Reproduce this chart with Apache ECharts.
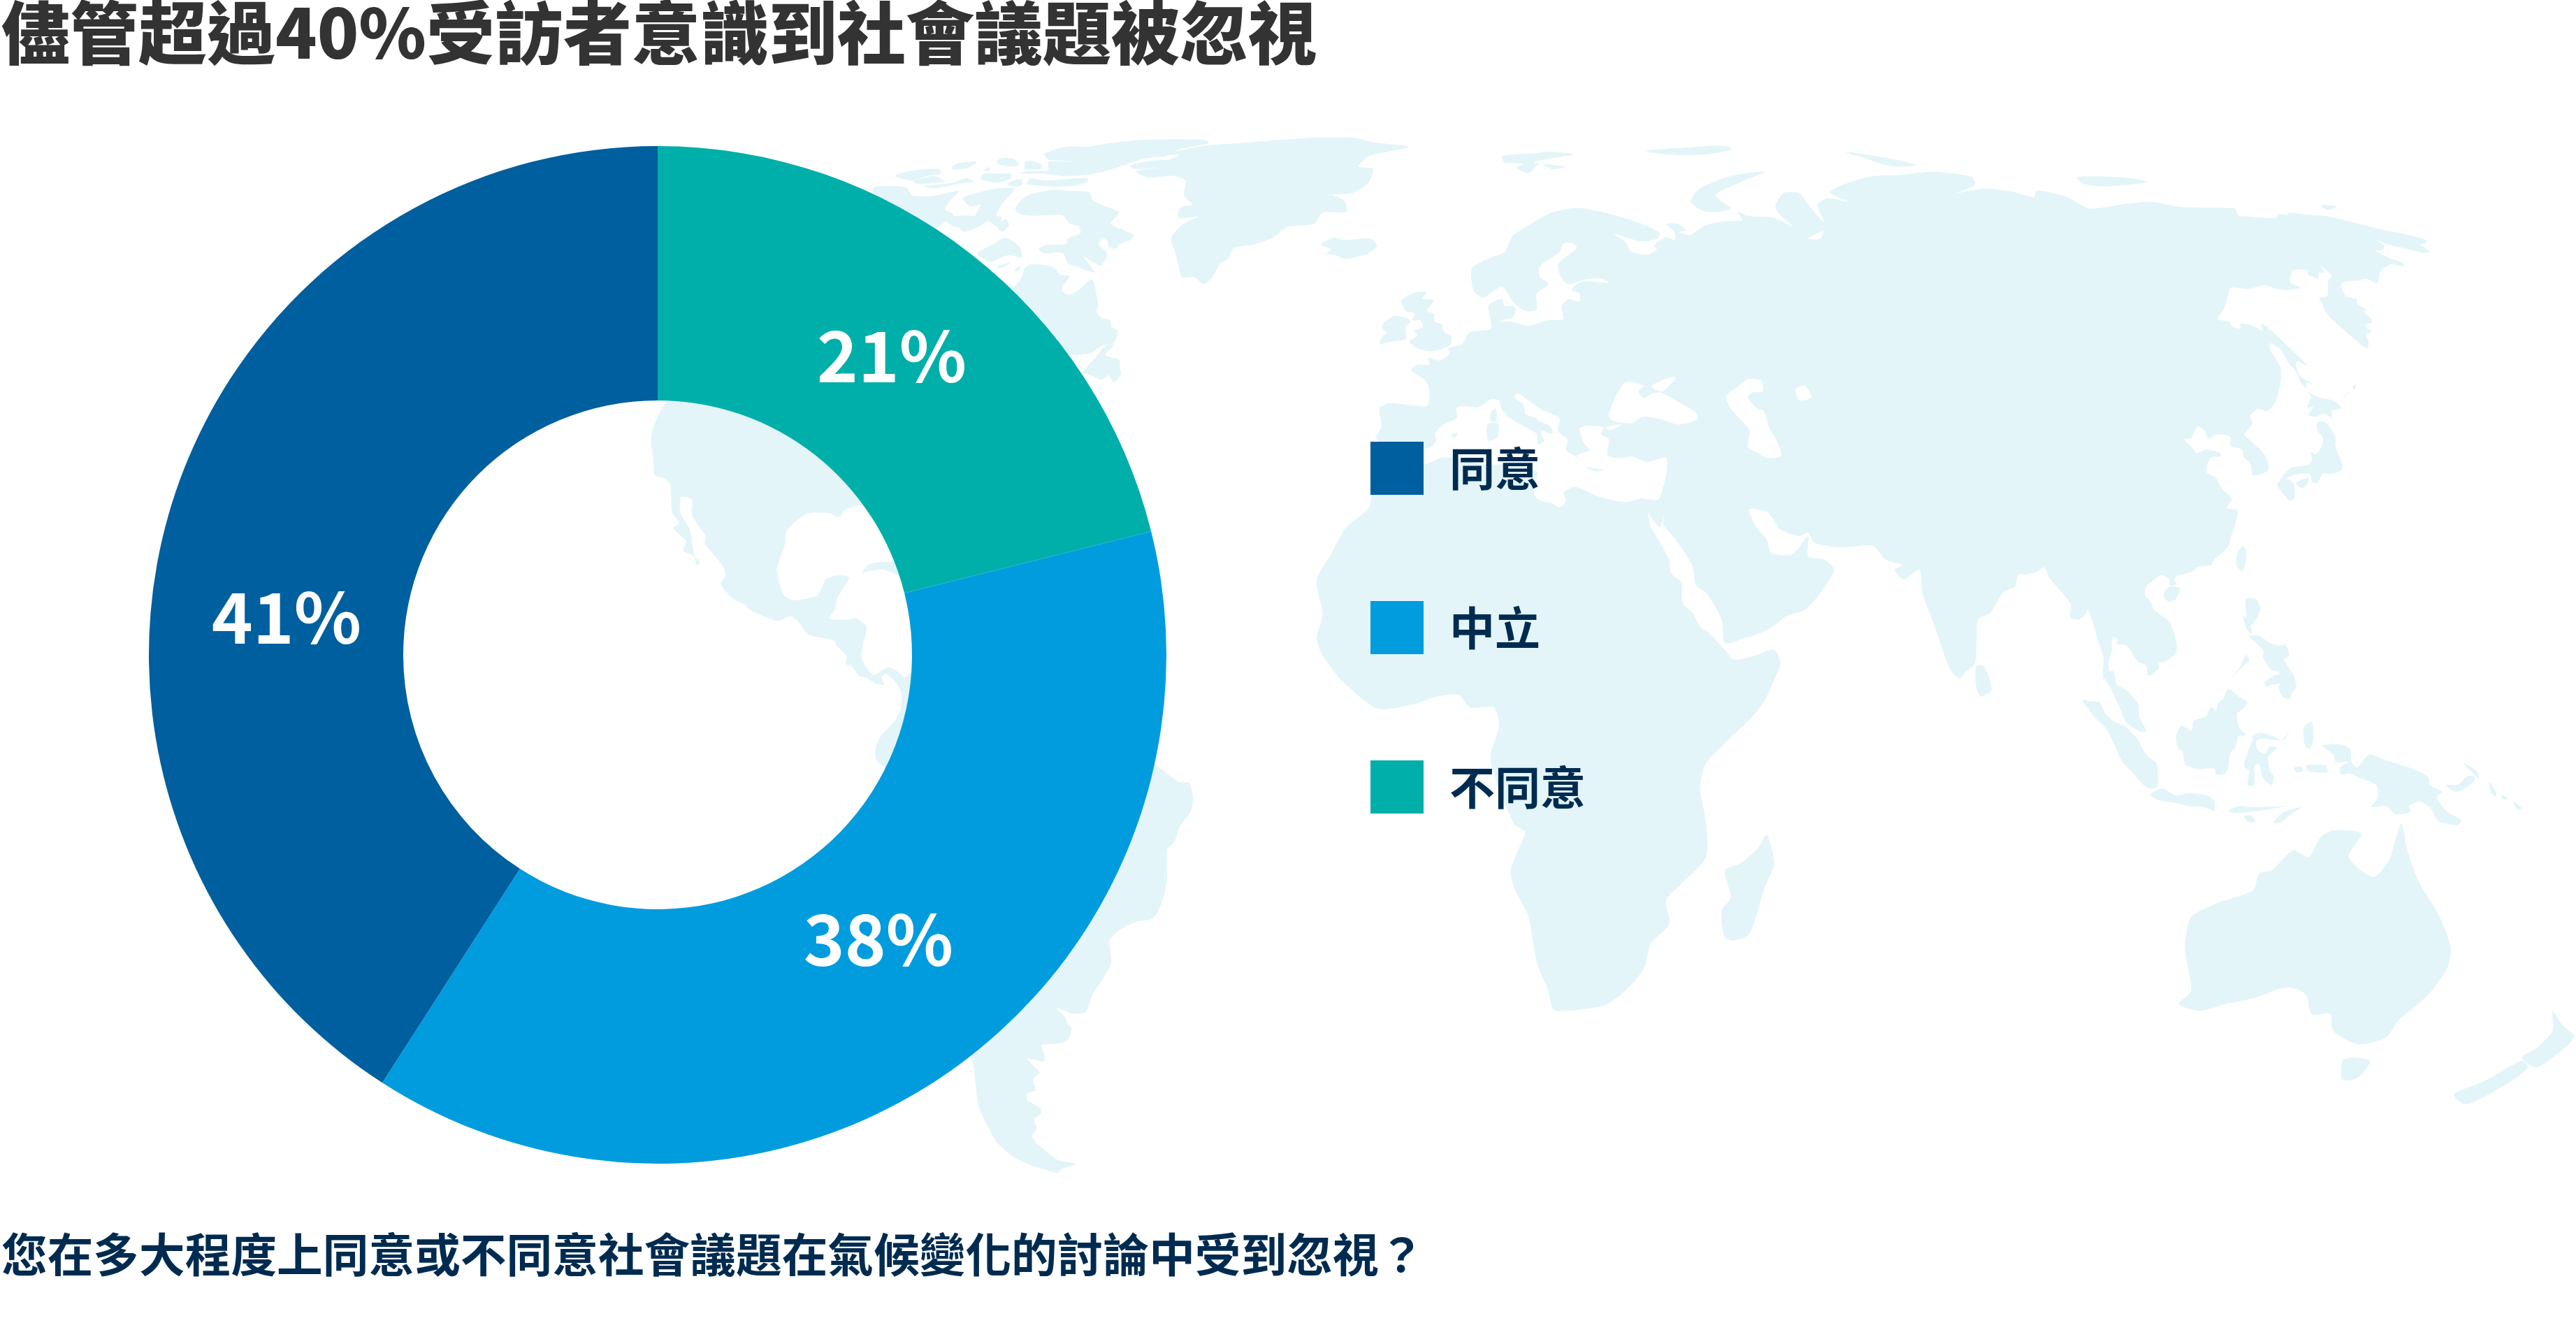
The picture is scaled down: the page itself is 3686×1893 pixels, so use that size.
<!DOCTYPE html>
<html><head><meta charset="utf-8">
<style>html,body{margin:0;padding:0;background:#fff}#c{width:3686px;height:1893px}</style>
<script src="https://cdn.jsdelivr.net/npm/echarts@6/dist/echarts.min.js"></script>
</head><body><div id="c"></div>
<script>
// ---- chart data ----
const categories = ['不同意', '中立', '同意'];
const values = [21.1, 38, 40.9];
const legendOrder = ['同意', '中立', '不同意'];
const sliceColors = ['#00AFAA', '#009CDE', '#005F9E'];
const titleText = '儘管超過40%受訪者意識到社會議題被忽視';
const questionText = '您在多大程度上同意或不同意社會議題在氣候變化的討論中受到忽視？';
const labelAnchors = [[1276, 509], [1257, 1344], [410, 883]];

// ---- decorative world backdrop (hand traced) ----
const LAND = '#E3F5F8';
// local tracing frames: origin x, origin y, scale x, scale y
const A = [1250, 180, 1.96, 3];
const B = [1950, 200, 2.613, 2.613];
const C = [2300, 150, 1.1313, 1.0453];
const D = [3100, 300, 3, 3];
const E = [2900, 750, 2.0103, 3];
const F = [900, 550, 3, 2.851];
const G = [1300, 1050, 3, 2.412];
const H = [1200, 150, 1.206, 1.206];

const eurasia = [
 [B,[62,1005,95,985,190,993,240,995,250,940,235,900,205,880,180,860,210,840,250,842,245,815,285,825,325,800,320,780,370,765,400,720,480,705,470,620,520,595,530,620,570,625,565,660,510,680,560,680,620,695,690,675,750,670,742,625,770,595,810,605,810,575,780,560,820,530,920,535,890,518,820,525,770,540,745,520,730,465,800,405,780,385,750,390,735,420,665,470,660,510,695,540,650,575,650,635,610,640,565,610,520,550,450,590,415,565,408,480,480,440,530,420,560,360,620,320,700,275,800,255,895,270,1000,300,1070,325,1110,350,1100,370,1040,380,940,352,985,385,1000,415,1060,430,1100,410,1090,395,1130,365,1165,375,1165,345,1135,315,1180,315,1210,340,1180,345,1225,355,1280,320,1350,305,1420,300,1400,270,1445,285,1530,290,1568,305]],
 [C,[300,182,272,155,285,132,310,132,330,155,350,175,380,182,345,190,325,200,345,200,352,178,340,150,355,140,390,145,360,130,420,108,470,105,530,100,590,108,595,120,565,132,610,125,655,130,690,138,695,128,745,138,780,155,840,148,880,145,930,153,1015,155]],
 [D,[310,25,360,30,470,35,480,18,520,25,575,52,520,30,525,15,590,20,700,30,860,70,940,90,1000,100,1115,130,1115,145,1090,150,1130,180,1100,185,1020,165,950,150,900,130,935,155,925,175,895,175,950,205,1018,230,1020,243,965,235,920,265,905,315,860,297,815,305,790,305,750,318,770,370,815,385,820,405,862,432,845,435,880,470,880,485,850,495,880,525,855,535,868,570,860,597,800,550,720,480,680,435,670,405,655,380,690,370,695,300,710,285,680,255,655,238,680,270,655,270,650,295,610,280,600,258,545,262,530,310,575,335,520,345,470,340,420,325,355,340,275,335,265,365,245,430,218,470,270,480,285,505,320,510,315,490,360,495,410,520,445,570,445,600,490,680,490,740,465,830,430,865,395,855,360,885,368,920,335,965,360,990,420,1050,440,1105,430,1125,370,1140,360,1090,330,1060,325,1030,275,1015,275,975,215,965,180,985,165,950,135,930,105,980,75,985,105,1015,130,1045,170,1030,230,1045,230,1060,190,1065,170,1125,210,1150,240,1200,280,1240,260,1280,305,1290,295,1350,275,1410,270,1440]],
 [E,[583,90,565,120,540,150,530,175,490,185,480,200,450,215,430,225,425,240,430,258,412,265,410,235,385,218,365,240,345,265,340,305,358,335,365,365,400,405,415,430,430,500,430,550,400,590,380,595,380,620,350,650,343,605,320,590,300,545,285,520,262,515,260,490,245,490,245,540,235,600,240,630,250,630,260,690,285,710,320,770,325,830,345,890,325,890,285,850,270,795,258,755,240,700,222,660,218,680,220,570,205,500,190,420,175,365,170,385,150,410,125,400,127,345,105,300,65,230,50,185,30,205,0,215]],
 [C,[665,703,660,720,640,730,620,760,600,770,598,800,595,835,580,848,570,858,555,845,530,780,510,730,505,695,480,710,465,695,478,688,450,680,430,660,375,662,335,655,325,640,310,645,280,635,260,610,230,605,240,630,258,650,265,670,300,672,325,645,325,675,350,680,367,695,345,730,320,755,290,765,260,785,215,800,190,805,185,770,160,730,143,718,138,690,118,660,90,628]],
 [B,[1122,1442,1125,1405,1110,1448,1065,1390,1060,1345,1105,1345,1135,1250,1135,1190,1100,1195,1060,1205,1010,1185,950,1190,915,1180,920,1120,890,1100,900,1075,840,1070,810,1080,830,1140,850,1160,800,1180,825,1200,790,1180,760,1160,765,1120,730,1090,735,1040,670,1010,600,960,565,935,590,940,565,960,600,990,610,1025,650,1040,655,1050,700,1070,710,1095,700,1100,670,1085,670,1110,680,1125,655,1140,650,1100,600,1070,565,1050,520,1010,510,975,480,970,430,1000,375,995,350,1005,352,1040,300,1065,270,1100,275,1125,250,1150,200,1165,90,1150,50,1115,70,1070]]
];
const africa = [
 [C,[65,610,70,630,100,680,103,700,120,715,122,745,138,760,150,780,165,790,190,815,205,830,235,825,270,815,280,835,270,860,255,890,235,915,190,955,160,985,150,1020,160,1075,160,1125,120,1165,95,1190,100,1225,70,1255,60,1290,35,1320,0,1345]],
 [H,[1290,1560,1235,1562,1225,1530,1205,1480,1190,1400,1165,1350,1160,1320,1175,1280,1185,1255,1165,1240,1125,1130,1140,1070,1130,1040,1090,1040,1070,1018,1030,1022,990,1035,930,1042,870,995,835,950,825,920,835,880,825,820,850,775,875,730,915,695,920,665]],
 [B,[30,1325,60,1240,150,1215,228,1215,290,1190,340,1190,450,1215,560,1215,650,1240,640,1320,655,1345,710,1360,735,1375,760,1350,750,1320,790,1298,830,1310,885,1335,985,1355,1040,1340,1060,1345,1065,1390]]
];
const americas = [
 [F,[175,60,130,120,100,190,95,240,105,300,110,370,155,385,178,410,185,520,215,565,190,585,220,615,245,640,235,680,270,695,305,725,290,738,270,640,260,590,220,520,225,460,270,470,270,530,300,580,330,620,325,650,360,690,405,745,415,780,395,815,440,870,490,895,530,925,640,965,690,945,725,965,770,1020,880,1045,890,1065,935,1110,930,1140,955,1150,990,1190,1015,1195,1060,1220,1095,1225,1085,1195,1105,1180,1145,1215,1170,1260,1165,1330,1130,1385,1085,1430,1060,1480,1060,1530,1100,1568]],
 [G,[270,1120,280,1150,285,1190,300,1280,330,1340,380,1410,450,1460,530,1490,640,1515,660,1500,720,1485,640,1470,560,1420,530,1390,550,1360,540,1330,570,1310,565,1290,510,1265,510,1240,545,1230,535,1190,565,1170,540,1150,510,1120,580,1130,585,1110,570,1075,640,1070,685,1055,700,1015,680,1000,675,980,635,945,700,965,760,960,790,900,830,850,870,790,865,710,920,670,980,648,1040,640,1070,615,1095,560,1110,500,1110,400,1140,375,1165,320,1210,270,1222,225,1205,170,1160,165,1060,105,1000,50]],
 [F,[1210,1175,1185,1195,1145,1165,1110,1155,1050,1185,1000,1120,1005,1060,1020,990,975,955,930,960,860,955,885,915,895,870,945,790,900,778,845,795,815,855,780,870,710,880,665,860,640,790,635,750,670,650,675,600,720,555,770,525,860,525,900,540,930,510,1000,495,1050,550,1300,300,600,-100]]
];
const canadaMain = [[A,[390,690,415,650,425,610,440,595,490,600,510,615,525,640,550,645,530,690,530,710,545,725,570,710,612,660,625,720,630,770,625,800,640,825,665,835,668,865,685,880,680,915,670,935,640,945,610,975,560,985,550,985,300,1000,200,500]]];
const islands = [
 [A,[585,1060,620,1000,650,945,675,940,650,985,690,1005,690,1040,695,1065,680,1095,670,1098,660,1070,640,1090,600,1065]],
 [A,[400,345,430,300,500,275,548,280,605,285,615,320,650,345,688,372,665,420,705,450,730,470,720,490,690,510,680,527,660,520,655,490,640,482,632,510,655,545,650,575,635,600,615,585,590,562,610,605,620,630,570,605,545,590,530,545,480,548,462,530,490,510,540,508,545,482,580,462,575,430,550,420,530,385,490,385,470,385,425,385,400,370]],
 [A,[345,430,360,395,345,385,355,345,375,310,395,270,340,270,285,290,250,310,270,345,300,340,285,385,300,395,285,420,240,430,255,455,300,430,320,410]],
 [A,[60,215,100,195,180,185,190,205,150,215,110,235]],
 [A,[110,240,170,215,200,240,165,245,130,250]],
 [A,[140,260,220,245,260,225,280,240,235,250,170,268]],
 [A,[480,120,540,90,600,90,660,75,760,60,930,60,940,75,860,100,820,130,760,140,700,170,650,195,600,210,530,215,480,205,410,205,430,195,490,190,490,155,560,155,530,150,490,145]],
 [A,[430,250,440,225,480,235,530,230,600,225,600,240,560,258,490,260]],
 [A,[425,155,445,150,470,165,470,185,425,185]],
 [A,[345,155,355,140,390,140,410,165,390,175,350,165]],
 [A,[300,225,310,205,345,205,385,205,385,225,350,245,310,235]],
 [A,[375,250,400,230,418,235,415,255,395,262]],
 [A,[220,175,240,160,290,155,265,180,225,188]],
 [A,[310,190,325,178,325,195]],
 [A,[0,265,40,258,90,265,110,300,170,300,200,290,240,280,215,320,200,360,225,380,210,400,170,440,100,400,0,300]],
 [A,[200,395,260,385,305,395,290,415,250,440,210,420]],
 [A,[345,430,370,400,380,425,360,455]],
 [A,[290,550,340,505,370,480,410,520,415,565,380,555,345,575,330,585]],
 [A,[345,605,385,585,360,610]],
 [A,[395,620,412,600,405,625]],
 [A,[720,170,780,150,830,145,855,125,800,125,880,100,930,85,1020,75,1100,65,1250,50,1350,52,1395,70,1500,90,1430,115,1390,130,1360,175,1400,185,1385,250,1340,290,1285,295,1320,320,1325,370,1260,372,1235,420,1160,435,1120,480,1065,510,1010,525,995,570,970,595,950,650,925,680,900,650,865,650,855,600,845,540,835,480,870,420,910,390,855,395,860,350,895,340,870,300,875,235,840,215,770,222,735,195,800,180,730,185]],
 [A,[1255,510,1290,480,1320,490,1395,485,1412,515,1385,550,1325,572,1295,555,1270,550,1282,530]],
 [B,[520,60,640,50,700,45,790,55,700,70,640,85,755,100,710,110,660,90,620,125,575,105,600,90,530,85]],
 [B,[1060,42,1200,30,1340,22,1380,35,1280,55,1130,55]],
 [B,[145,600,200,570,240,570,220,595,265,600,240,640,265,650,270,680,295,690,305,720,332,735,325,770,260,790,205,780,175,755,205,730,190,715,225,700,215,675,185,675,195,650,160,640]],
 [B,[75,690,115,660,160,665,180,680,160,700,160,745,100,755,65,765,70,740,90,720,75,710]],
 [B,[478,1020,498,1005,500,1050,480,1055]],
 [B,[465,1065,505,1060,505,1110,470,1125]],
 [B,[330,1105,355,1095,345,1115]],
 [B,[835,1225,900,1235,870,1240]],
 [C,[190,1145,215,1135,245,1110,258,1092,270,1135,255,1170,230,1240,205,1250,190,1245,185,1205,200,1185]],
 [C,[597,840,610,840,622,875,605,885,597,870]],
 [E,[605,130,620,95,630,110,630,160,620,205,603,175]],
 [E,[395,295,412,268,440,275,430,320,410,332,398,320]],
 [E,[630,320,660,322,672,365,660,410,645,440,650,470,635,455,622,395,632,400]],
 [E,[640,480,670,480,690,500,715,520,745,520,755,565,740,580,760,630,770,655,775,700,765,720,755,750,735,740,725,700,730,685,700,690,690,700,685,680,710,650,730,640,700,620,680,570,680,540]],
 [E,[590,660,615,610,630,560,640,585,615,620]],
 [E,[430,910,445,865,475,885,480,845,515,825,530,785,545,800,550,770,565,750,580,705,610,740,635,765,620,795,605,815,610,870,630,905,610,910,600,960,585,985,580,1040,570,1070,545,1075,540,1050,490,1050,455,1030,450,980,435,960]],
 [E,[650,910,670,895,700,905,735,925,755,880,740,925,700,925,680,920,660,930,665,970,685,985,700,955,720,960,695,1000,700,1060,710,1080,705,1120,680,1090,668,1030,655,1040,655,1120,635,1120,640,1060,625,1040,640,960,650,930]],
 [E,[160,755,180,760,210,765,225,810,250,845,285,870,320,925,335,970,350,1000,375,1030,375,1130,345,1130,300,1060,275,1020,250,940,230,880,200,835]],
 [E,[355,1160,390,1135,430,1165,465,1155,520,1165,540,1190,540,1230,510,1215,465,1210,420,1195,380,1185]],
 [E,[580,1230,610,1210,660,1215,745,1210,670,1230,600,1240]],
 [E,[710,1280,740,1235,790,1215,760,1245,730,1280]],
 [E,[625,1255,645,1250,658,1275,640,1280]],
 [E,[798,870,820,850,825,920,815,965,800,950]],
 [E,[805,1035,860,1035,865,1065,810,1060]],
 [E,[770,1045,790,1040,795,1060,775,1065]],
 [E,[850,950,900,945,930,965,935,1020,950,1045,985,990,1035,1015,1110,1050,1155,1085,1160,1120,1195,1150,1180,1170,1200,1220,1220,1245,1250,1270,1240,1292,1185,1275,1160,1215,1130,1190,1100,1210,1105,1235,1060,1245,1035,1210,990,1215,1010,1175,1005,1120,960,1090,930,1070,905,1075,900,1045,925,1020,890,1020,880,985]],
 [E,[1205,1120,1240,1118,1270,1080,1290,1085,1280,1115,1235,1150]],
 [E,[1255,1025,1295,1060,1300,1095,1285,1070]],
 [E,[1330,1105,1350,1150,1350,1170,1335,1150]],
 [E,[1365,1160,1385,1180,1370,1180]],
 [E,[1400,1190,1425,1220,1410,1225]],
 [D,[410,490,480,545,510,575,605,670,560,650,555,665,575,715,630,750,600,745,600,765,575,740,560,700,525,660,490,600,445,570,415,530]],
 [D,[600,780,650,805,715,820,750,850,710,865,710,890,670,875,640,890,610,880,630,845,605,850,620,800]],
 [D,[645,915,680,910,725,975,725,1015,755,1095,750,1120,700,1135,670,1135,650,1170,625,1170,615,1135,560,1135,520,1150,480,1175,530,1110,610,1095,625,1070,620,1040,640,1050,665,1020,672,980,650,950]],
 [D,[475,1180,510,1155,545,1175,550,1240,530,1250,505,1225]],
 [D,[555,1175,610,1150,600,1185,580,1195]],
 [D,[800,760,815,750,805,775]],
 [D,[755,810,790,775,770,800]],
 [C,[925,1345,945,1325,935,1260,945,1215,985,1195,1045,1175,1055,1150,1075,1145,1110,1115,1135,1125,1155,1095,1175,1085,1220,1090,1200,1125,1240,1155,1265,1130,1285,1075,1295,1115,1315,1165,1345,1210,1365,1260,1360,1290,1330,1330,1280,1370,1260,1395,1215,1405,1175,1385,1170,1360,1140,1360,1130,1330,1100,1320,1050,1335,1000,1345,960,1355]],
 [C,[1190,1430,1205,1425,1235,1430,1215,1455,1190,1458]],
 [C,[1505,1410,1530,1385,1530,1355,1545,1375,1565,1395,1505,1440,1480,1425]],
 [C,[1370,1480,1420,1460,1480,1430,1490,1440,1455,1465,1390,1495]],
 [C,[150,125,205,105,255,100,225,112,175,135,200,155,160,160,135,145]],
 [C,[65,68,200,62,130,75]],
 [C,[385,70,455,80,500,90,460,92,410,78]],
 [C,[760,108,830,108,875,115,810,122,770,118]],
 [C,[1155,150,1180,152,1165,157]],
 [F,[1000,768,1030,735,1080,725,1145,728,1165,780,1090,755,1040,760]]
];
const seas = [
 [B,[920,1030,945,960,985,905,1050,920,1030,940,1050,965,1080,950,1115,945,1180,980,1245,1020,1250,1045,1180,1065,1130,1050,1050,1035,1005,1060,935,1050]],
 [B,[1080,920,1130,895,1170,888,1145,920,1120,940,1095,935]],
 [B,[1358,960,1400,925,1440,895,1490,900,1495,940,1455,945,1440,965,1475,1005,1500,1015,1520,1080,1540,1110,1565,1180,1515,1190,1465,1165,1440,1150,1445,1085,1380,1010]],
 [B,[905,1075,965,1065,930,1085]],
 [B,[1225,295,1260,300,1240,312]],
 [C,[305,425,320,420,330,438,310,442]]
];
function trace(parts) {
  const pts = [];
  parts.forEach(([f, flat]) => {
    for (let i = 0; i < flat.length; i += 2) pts.push([f[0] + flat[i] / f[2], f[1] + flat[i + 1] / f[3]]);
  });
  return pts;
}
const land = (parts, z, fill) => ({ type: 'polygon', silent: true, z: z, shape: { points: trace(parts), smooth: 0.25 }, style: { fill: fill } });
const backdrop = [
  land(eurasia, 0, LAND), land(africa, 0, LAND), land(americas, 0, LAND), land(canadaMain, 0, LAND)
].concat(islands.map(p => land([p], 0, LAND)), seas.map(p => land([p], 1, '#ffffff')));

const cjk = '"Noto Sans CJK TC","Noto Sans CJK SC",sans-serif';
const chart = echarts.init(document.getElementById('c'), null, { renderer: 'canvas' });
chart.setOption({
  animation: false,
  backgroundColor: '#ffffff',
  title: [
    { text: titleText, left: 2, top: -2, padding: 0, textStyle: { fontFamily: cjk, fontWeight: 900, fontSize: 98, color: '#333333' } },
    { text: questionText, left: 2, top: 1762, padding: 0, textStyle: { fontFamily: cjk, fontWeight: 700, fontSize: 65.7, color: '#002B50' } }
  ],
  legend: {
    data: legendOrder, orient: 'vertical', left: 1961, top: 632, padding: 0,
    itemWidth: 76, itemHeight: 76, itemGap: 152, icon: 'rect', selectedMode: false, align: 'left',
    textStyle: { fontFamily: cjk, fontWeight: 700, fontSize: 65, color: '#002B50', padding: [0, 0, 0, 32] }
  },
  graphic: { elements: backdrop },
  series: [{
    type: 'pie', center: [941, 937], radius: [364, 728], startAngle: 90, clockwise: true,
    avoidLabelOverlap: false, silent: true,
    label: { show: true, position: 'inside', formatter: p => Math.round(p.value) + '%', color: '#ffffff', fontFamily: cjk, fontWeight: 700, fontSize: 100 },
    labelLine: { show: false },
    labelLayout: p => ({ x: labelAnchors[p.dataIndex][0], y: labelAnchors[p.dataIndex][1], align: 'center', verticalAlign: 'middle' }),
    data: categories.map((n, i) => ({ name: n, value: values[i], itemStyle: { color: sliceColors[i] } }))
  }]
});
</script></body></html>
